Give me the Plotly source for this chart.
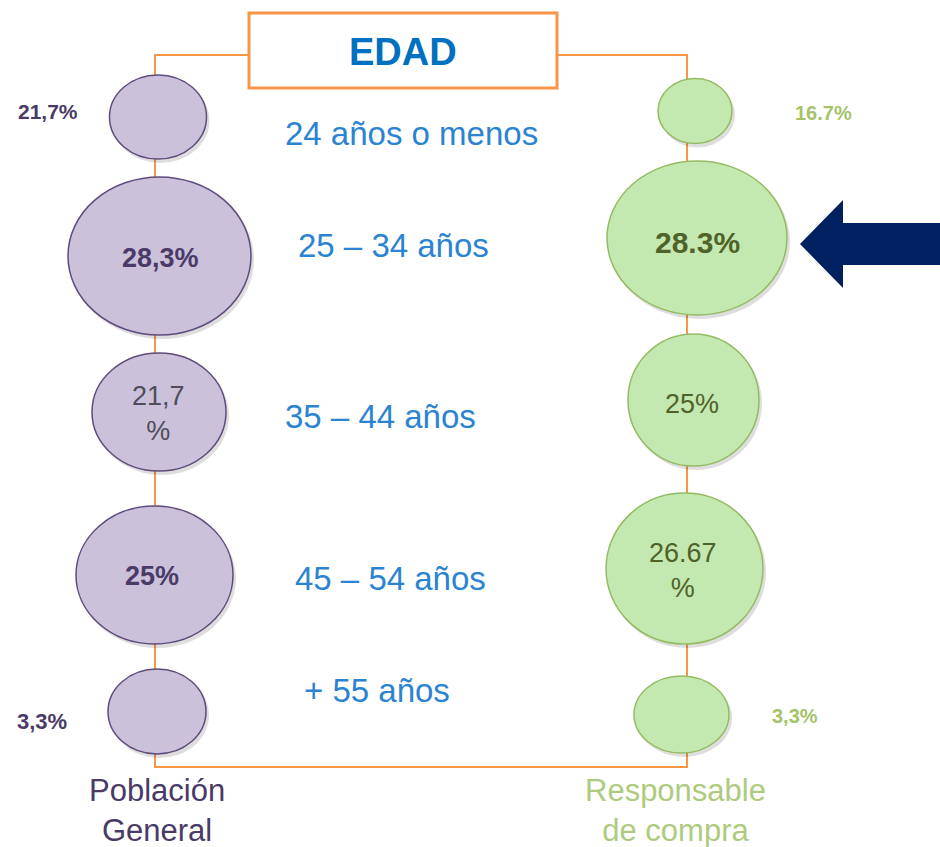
import plotly.graph_objects as go

# ---------------- data ----------------
categories = ["24 años o menos", "25 – 34 años", "35 – 44 años", "45 – 54 años", "+ 55 años"]
poblacion_labels = ["21,7%", "28,3%", "21,7<br>%", "25%", "3,3%"]
responsable_labels = ["16.7%", "28.3%", "25%", "26.67<br>%", "3,3%"]
series_names = ["Población<br>General", "Responsable<br>de compra"]
title_text = "EDAD"

# ---------------- layout geometry (page pixels, y down) ----------------
W, H = 940, 847
OFF = 0
left_ellipses = [(158, 117, 48.5, 42), (159.5, 256, 91.5, 79), (159, 412, 67, 59),
                 (154.5, 575, 78.5, 69), (157, 711.5, 49, 42.5)]
right_ellipses = [(695, 111, 37, 32.5), (697, 238, 90, 77), (693.5, 400, 65.5, 66),
                  (684.5, 568.5, 78.5, 75.5), (681.5, 714.5, 47.5, 38.5)]
# label placement: (x, y, inside?, bold, size)
left_label_pos = [(48, 111, False, True, 21), (160, 258, True, True, 27), (158, 413, True, False, 27),
                  (152, 576, True, True, 27), (42, 721, False, True, 22)]
right_label_pos = [(823, 113, False, True, 20), (697, 242, True, True, 30), (692, 404, True, False, 27),
                   (683, 570, True, False, 27), (795, 716, False, True, 20)]
cat_pos = [(411, 133), (393, 245), (380, 416), (390, 578), (377, 690)]

ORANGE = "#F79646"
PURPLE_FILL = "#CBC1DB"
PURPLE_LINE = "#5F4B7C"
PURPLE_TEXT = "#4A3A68"
GREEN_FILL = "#C3E9B0"
GREEN_LINE = "#95BB62"
GREEN_TEXT_DARK = "#4F6228"
GREEN_TEXT_LIGHT = "#A6C36B"
GREEN_SERIES = "#ADCB7E"
BLUE = "#2A84D2"
TITLE_BLUE = "#0070C0"
NAVY = "#002060"
FONT = "Liberation Sans, Arial, sans-serif"

fig = go.Figure()
# invisible trace to establish the pixel-based axes
fig.add_trace(go.Scatter(x=[0, W], y=[0, H], mode="markers", marker=dict(opacity=0),
                         hoverinfo="skip", showlegend=False))

shapes = []
# connector frame
lx, rx = 155, 687
top_y, bot_y = 55, 767
box = (249, 13, 557, 88)
shapes.append(dict(type="path", path=f"M {box[0]} {top_y} L {lx} {top_y} L {lx} {bot_y} L {rx} {bot_y} L {rx} {top_y} L {box[2]} {top_y}",
                   line=dict(color=ORANGE, width=2), layer="below"))
shapes.append(dict(type="rect", x0=box[0], y0=box[1], x1=box[2], y1=box[3],
                   line=dict(color=ORANGE, width=3), fillcolor="white"))

def add_ellipses(ells, fill, line):
    for (cx, cy, a, b) in ells:
        shapes.append(dict(type="circle", x0=cx - a + 2, x1=cx + a + 3, y0=cy - b + 3, y1=cy + b + 4,
                           line=dict(width=0), fillcolor="rgba(0,0,0,0.13)"))
        shapes.append(dict(type="circle", x0=cx - a, x1=cx + a, y0=cy - b, y1=cy + b,
                           line=dict(color=line, width=1.5), fillcolor=fill))

add_ellipses(left_ellipses, PURPLE_FILL, PURPLE_LINE)
add_ellipses(right_ellipses, GREEN_FILL, GREEN_LINE)

# arrow pointing left
ax_tip, ay = 800, 244
shapes.append(dict(type="path",
                   path=f"M {ax_tip} {ay} L 843 200 L 843 223 L {W+20} 223 L {W+20} 265 L 843 265 L 843 288 Z",
                   fillcolor=NAVY, line=dict(width=0)))

annotations = []
annotations.append(dict(x=403, y=52, text=f"<b>{title_text}</b>", showarrow=False,
                        font=dict(family=FONT, size=38, color=TITLE_BLUE)))
for txt, (x, y) in zip(categories, cat_pos):
    annotations.append(dict(x=x, y=y, text=txt, showarrow=False,
                            font=dict(family=FONT, size=33, color=BLUE)))

for txt, (x, y, inside, bold, sz) in zip(poblacion_labels, left_label_pos):
    t = f"<b>{txt}</b>" if bold else txt
    col = PURPLE_TEXT if bold else "#4E4E5A"
    annotations.append(dict(x=x, y=y, text=t, showarrow=False,
                            font=dict(family=FONT, size=sz, color=col)))
for txt, (x, y, inside, bold, sz) in zip(responsable_labels, right_label_pos):
    t = f"<b>{txt}</b>" if bold else txt
    col = GREEN_TEXT_DARK if inside else GREEN_TEXT_LIGHT
    annotations.append(dict(x=x, y=y, text=t, showarrow=False,
                            font=dict(family=FONT, size=sz, color=col)))

annotations.append(dict(x=157, y=810, text=series_names[0], showarrow=False,
                        font=dict(family=FONT, size=31, color=PURPLE_TEXT)))
annotations.append(dict(x=675, y=810, text=series_names[1], showarrow=False,
                        font=dict(family=FONT, size=31, color=GREEN_SERIES)))

fig.update_layout(
    width=W, height=H, margin=dict(l=0, r=0, t=0, b=0),
    paper_bgcolor="white", plot_bgcolor="white",
    xaxis=dict(range=[OFF, W + OFF], visible=False, fixedrange=True),
    yaxis=dict(range=[H + OFF, OFF], visible=False, fixedrange=True),
    shapes=shapes, annotations=annotations, showlegend=False,
)
fig.write_html("out.html", config={"displayModeBar": False},
               post_script="document.body.style.margin='0';document.body.style.overflow='hidden';")
